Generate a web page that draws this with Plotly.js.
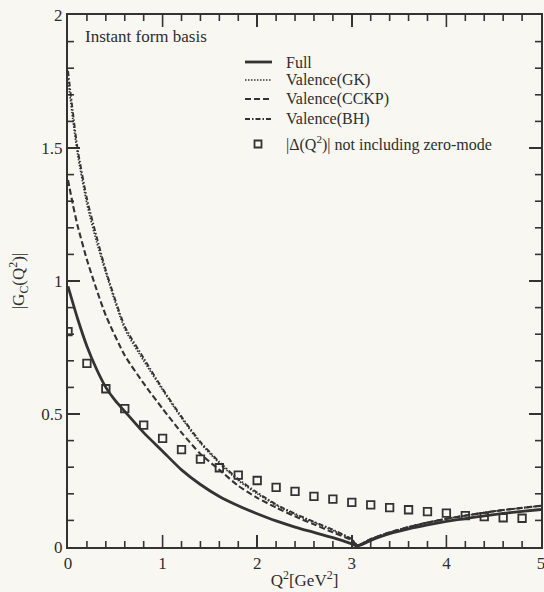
<!DOCTYPE html>
<html>
<head>
<meta charset="utf-8">
<script src="https://cdn.plot.ly/plotly-3.0.1.min.js"></script>
<style>html,body{margin:0;padding:0;background:#f8f7f2;}#chart{width:544px;height:592px;}</style>
</head>
<body>
<div id="chart"></div>
<script>
// Q^2 grid for curves
var qFull = [0, 0.1, 0.2, 0.3, 0.4, 0.5, 0.6, 0.8, 1.0, 1.2, 1.4, 1.6, 1.8, 2.0, 2.2, 2.4, 2.6, 2.8, 3.0, 3.06, 3.2, 3.4, 3.6, 3.8, 4.0, 4.2, 4.4, 4.6, 4.8, 5.0];
var gFull = [0.98, 0.86, 0.755, 0.67, 0.6, 0.55, 0.51, 0.43, 0.36, 0.29, 0.235, 0.19, 0.155, 0.125, 0.098, 0.075, 0.055, 0.035, 0.012, 0.004, 0.025, 0.05, 0.068, 0.083, 0.096, 0.107, 0.117, 0.126, 0.134, 0.141];

var qVal = [0, 0.05, 0.1, 0.2, 0.3, 0.4, 0.6, 0.8, 1.0, 1.2, 1.4, 1.6, 1.8, 2.0, 2.2, 2.4, 2.6, 2.8, 3.0, 3.06, 3.2, 3.4, 3.6, 3.8, 4.0, 4.2, 4.4, 4.6, 4.8, 5.0];
var gGK   = [1.76, 1.61, 1.48, 1.29, 1.15, 1.03, 0.82, 0.70, 0.59, 0.485, 0.39, 0.315, 0.25, 0.2, 0.157, 0.122, 0.092, 0.062, 0.028, 0.006, 0.03, 0.055, 0.075, 0.092, 0.106, 0.118, 0.129, 0.139, 0.147, 0.155];
var gCCKP = [1.38, 1.29, 1.21, 1.08, 0.97, 0.87, 0.72, 0.615, 0.52, 0.43, 0.35, 0.29, 0.23, 0.185, 0.148, 0.115, 0.085, 0.055, 0.025, 0.006, 0.03, 0.055, 0.075, 0.092, 0.106, 0.118, 0.129, 0.139, 0.147, 0.155];
var gBH   = [1.79, 1.64, 1.50, 1.31, 1.17, 1.04, 0.83, 0.71, 0.595, 0.49, 0.395, 0.32, 0.255, 0.205, 0.16, 0.125, 0.095, 0.065, 0.03, 0.006, 0.03, 0.055, 0.075, 0.092, 0.106, 0.118, 0.129, 0.139, 0.147, 0.155];

// |Delta(Q^2)| points (not including zero-mode)
var qDelta = [0, 0.2, 0.4, 0.6, 0.8, 1.0, 1.2, 1.4, 1.6, 1.8, 2.0, 2.2, 2.4, 2.6, 2.8, 3.0, 3.2, 3.4, 3.6, 3.8, 4.0, 4.2, 4.4, 4.6, 4.8];
var gDelta = [0.81, 0.69, 0.595, 0.52, 0.458, 0.408, 0.366, 0.33, 0.298, 0.27, 0.25, 0.224, 0.209, 0.19, 0.18, 0.168, 0.158, 0.148, 0.14, 0.133, 0.127, 0.118, 0.114, 0.11, 0.108];

var names = ['Full', 'Valence(GK)', 'Valence(CCKP)', 'Valence(BH)', '|\u0394(Q<sup>2</sup>)| not including zero-mode'];
var xRange = [0, 5], yRange = [0, 2];

var ink = '#333333';
var serif = 'Liberation Serif, Times New Roman, serif';
var styles = [
  {color: ink, width: 2.8, dash: 'solid'},
  {color: ink, width: 1.7, dash: '1.5px,1.5px'},
  {color: ink, width: 2.1, dash: '6px,3px'},
  {color: ink, width: 1.9, dash: '5px,2px,1.5px,2px'}
];
var curveX = [qFull, qVal, qVal, qVal];
var curveY = [gFull, gGK, gCCKP, gBH];

var L = 68, R = 541, T = 15, B = 547;
var W = R - L, H = B - T;

// tick marks as one line trace (inside ticks on all four sides), lengths converted from pixels to axis units
var MAJ = 12, MIN = 6;
var dxPerPx = (xRange[1] - xRange[0]) / W, dyPerPx = (yRange[1] - yRange[0]) / H;
var tx = [], ty = [];
for (var a = 1; a < 25; a++) {
  var xv = xRange[0] + a * 0.2, ln = ((a % 5 === 0) ? MAJ : MIN) * dyPerPx;
  tx.push(xv, xv, null, xv, xv, null);
  ty.push(yRange[0], yRange[0] + ln, null, yRange[1], yRange[1] - ln, null);
}
for (var b = 1; b < 20; b++) {
  var yv = yRange[0] + b * 0.1, lx = ((b % 5 === 0) ? MAJ : MIN) * dxPerPx;
  tx.push(xRange[0], xRange[0] + lx, null, xRange[1], xRange[1] - lx, null);
  ty.push(yv, yv, null, yv, yv, null);
}

var traces = [];
traces.push({x: tx, y: ty, mode: 'lines', showlegend: false, hoverinfo: 'skip', connectgaps: false,
  line: {color: ink, width: 1.6}});
for (var i = 0; i < 4; i++) {
  traces.push({x: curveX[i], y: curveY[i], name: names[i], mode: 'lines', showlegend: false,
    line: {color: styles[i].color, width: styles[i].width, dash: styles[i].dash, shape: 'spline', smoothing: 0.6}});
}
traces.push({x: qDelta, y: gDelta, name: names[4], mode: 'markers', showlegend: false,
  marker: {symbol: 'square-open', size: 7.5, color: ink, line: {width: 1.8, color: ink}}});

// hand-placed legend (paper coordinates)
function px(v) { return (v - L) / W; }
function py(v) { return (B - v) / H; }
var rowY = [62, 80, 99, 119, 144];
var shapes = [], annotations = [];
for (var k = 0; k < 4; k++) {
  shapes.push({type: 'line', xref: 'paper', yref: 'paper', x0: px(245), x1: px(272), y0: py(rowY[k]), y1: py(rowY[k]),
    line: {color: styles[k].color, width: styles[k].width, dash: styles[k].dash}});
}
shapes.push({type: 'rect', xref: 'paper', yref: 'paper', x0: px(254.5), x1: px(261.5), y0: py(rowY[4] + 3.5), y1: py(rowY[4] - 3.5),
  line: {color: ink, width: 1.8}, fillcolor: 'rgba(0,0,0,0)'});
for (var m = 0; m < 5; m++) {
  annotations.push({text: names[m], xref: 'paper', yref: 'paper', x: px(284), y: py(rowY[m]), xanchor: 'left', yanchor: 'middle',
    showarrow: false, font: {family: serif, size: 16, color: '#2e2e2e'}});
}
annotations.push({text: 'Instant form basis', xref: 'paper', yref: 'paper', x: px(83), y: py(37), xanchor: 'left', yanchor: 'middle',
  showarrow: false, font: {family: serif, size: 17, color: '#2e2e2e'}});

var layout = {
  width: 544, height: 592,
  margin: {l: L, r: 544 - R, t: T, b: 592 - B},
  paper_bgcolor: '#f8f7f2', plot_bgcolor: '#f8f7f2',
  font: {family: serif, size: 17, color: '#2e2e2e'},
  showlegend: false,
  xaxis: {
    range: xRange, tickmode: 'linear', tick0: 0, dtick: 1,
    ticks: 'inside', ticklen: 12, tickwidth: 1.6, tickcolor: ink,
    showline: true, linecolor: ink, linewidth: 2, mirror: 'ticks',
    showgrid: false, zeroline: false, ticklabeloverflow: 'allow',
    tickfont: {family: serif, size: 17, color: '#2e2e2e'},
    title: {text: 'Q<sup>2</sup>[GeV<sup>2</sup>]', font: {family: serif, size: 17, color: '#2e2e2e'}, standoff: 2}
  },
  yaxis: {
    range: yRange, tickmode: 'linear', tick0: 0, dtick: 0.5,
    ticks: 'inside', ticklen: 12, tickwidth: 1.6, tickcolor: ink,
    showline: true, linecolor: ink, linewidth: 2, mirror: 'ticks',
    showgrid: false, zeroline: false, ticklabeloverflow: 'allow',
    tickfont: {family: serif, size: 17, color: '#2e2e2e'},
    title: {text: '|G<sub>C</sub>(Q<sup>2</sup>)|', font: {family: serif, size: 17, color: '#2e2e2e'}, standoff: 12}
  },
  shapes: shapes,
  annotations: annotations
};

Plotly.newPlot('chart', traces, layout, {displayModeBar: false, staticPlot: true});
</script>
</body>
</html>
